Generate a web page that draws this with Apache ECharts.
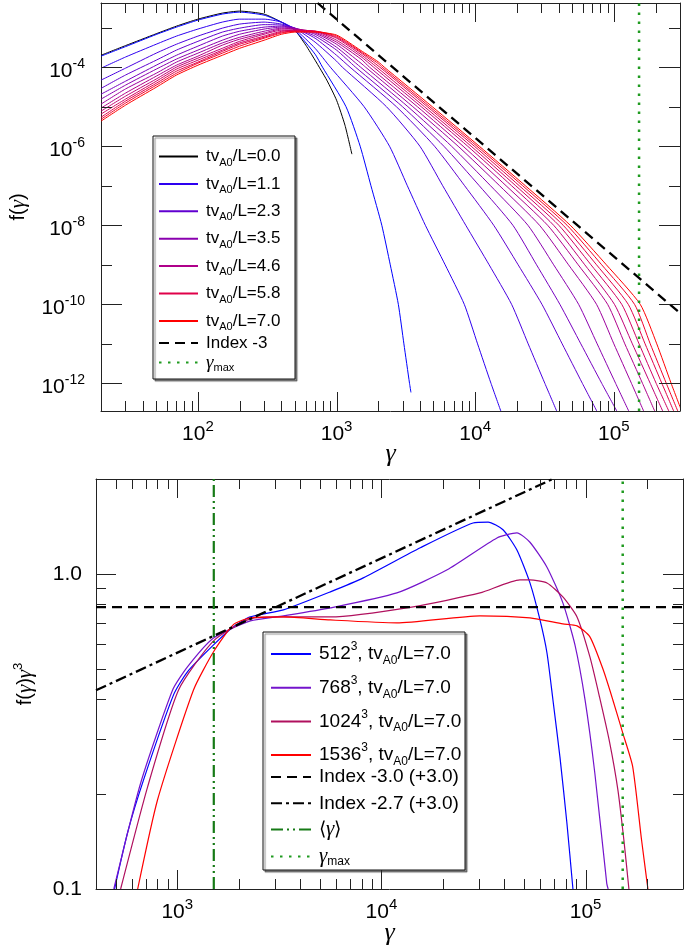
<!DOCTYPE html>
<html><head><meta charset="utf-8">
<script src="https://cdn.jsdelivr.net/npm/echarts/dist/echarts.min.js"></script>
<style>html,body{margin:0;padding:0;background:#fff}#c{width:685px;height:948px}</style>
</head><body><div id="c"></div>
<script>
// ---------------- DATA ----------------
// Top panel: f(gamma) at successive times, [gamma, f]
const t00 = [[20,2.0e-4],[30,3.5e-4],[50,7.0e-4],[70,1.09e-3],[100,1.64e-3],[150,2.33e-3],[200,2.62e-3],[300,2.20e-3],[400,1.38e-3],[500,8.6e-4],[600,3.6e-4],[700,1.5e-4],[850,4.7e-5],[1000,1.46e-5],[1150,3.4e-6],[1290,6.3e-7]];
const t01 = [[20,1.9e-4],[30,3.3e-4],[50,6.7e-4],[70,1.03e-3],[100,1.55e-3],[150,2.20e-3],[200,2.47e-3],[300,2.07e-3],[400,1.38e-3],[500,8.6e-4],[700,2.13e-4],[792,1e-4],[1170,1e-5],[1480,1e-6],[1770,1e-7],[2120,1e-8],[2440,1e-9],[2790,1e-10],[3060,1e-11],[3360,1e-12],[3440,5.9e-13]];
const t02 = [[20,9.4e-5],[30,1.8e-4],[50,3.8e-4],[70,6.1e-4],[100,9.2e-4],[150,1.38e-3],[200,1.64e-3],[300,1.64e-3],[400,1.38e-3],[500,9.2e-4],[700,3.0e-4],[902,1e-4],[1580,1e-5],[2410,1e-6],[3240,1e-7],[4370,1e-8],[6070,1e-9],[8340,1e-10],[1.04e4,1e-11],[1.30e4,1e-12],[1.53e4,2e-13]];
const t03 = [[20,4.7e-5],[30,9.4e-5],[50,2.26e-4],[70,3.8e-4],[100,6.1e-4],[150,9.7e-4],[200,1.23e-3],[300,1.38e-3],[400,1.23e-3],[500,9.7e-4],[700,4.3e-4],[1000,1.42e-4],[1100,1e-4],[2290,1e-5],[3990,1e-6],[5830,1e-7],[8550,1e-8],[1.26e4,1e-9],[1.83e4,1e-10],[2.41e4,1e-11],[3.18e4,1e-12],[3.87e4,2e-13]];
const t04 = [[20,2.9e-5],[30,6.3e-5],[50,1.5e-4],[70,2.7e-4],[100,4.5e-4],[150,7.7e-4],[200,9.7e-4],[300,1.19e-3],[400,1.16e-3],[500,9.7e-4],[700,5.4e-4],[1000,2.0e-4],[1250,1e-4],[2700,1e-5],[5090,1e-6],[8390,1e-7],[1.36e4,1e-8],[2.04e4,1e-9],[3.03e4,1e-10],[4.24e4,1e-11],[5.93e4,1e-12],[7.53e4,2e-13]];
const t05 = [[20,2.07e-5],[30,4.4e-5],[50,1.12e-4],[70,2.0e-4],[100,3.4e-4],[150,6.1e-4],[200,8.1e-4],[300,1.03e-3],[400,1.09e-3],[500,9.7e-4],[700,6.1e-4],[1000,2.7e-4],[1370,1e-4],[2990,1e-5],[5940,1e-6],[1.07e4,1e-7],[1.87e4,1e-8],[2.77e4,1e-9],[4.08e4,1e-10],[5.78e4,1e-11],[8.18e4,1e-12],[1.05e5,2e-13]];
const t06 = [[20,1.55e-5],[30,3.5e-5],[50,8.9e-5],[70,1.6e-4],[100,2.7e-4],[150,4.8e-4],[200,6.8e-4],[300,9.2e-4],[400,1.03e-3],[500,9.7e-4],[700,6.8e-4],[1000,3.2e-4],[1490,1e-4],[3270,1e-5],[6750,1e-6],[1.29e4,1e-7],[2.40e4,1e-8],[3.68e4,1e-9],[5.57e4,1e-10],[7.58e4,1e-11],[1.03e5,1e-12],[1.28e5,2e-13]];
const t07 = [[20,1.16e-5],[30,2.8e-5],[50,7.0e-5],[70,1.34e-4],[100,2.26e-4],[150,4.1e-4],[200,5.7e-4],[300,8.1e-4],[400,9.7e-4],[500,9.2e-4],[700,7.3e-4],[1000,3.8e-4],[1500,1.26e-4],[1620,1e-4],[3550,1e-5],[7530,1e-6],[1.50e4,1e-7],[2.91e4,1e-8],[4.71e4,1e-9],[7.50e4,1e-10],[1.00e5,1e-11],[1.34e5,1e-12],[1.64e5,2e-13]];
const t08 = [[20,9.2e-6],[30,2.2e-5],[50,5.9e-5],[70,1.12e-4],[100,1.9e-4],[150,3.6e-4],[200,5.1e-4],[300,7.3e-4],[400,9.2e-4],[500,9.2e-4],[700,7.7e-4],[1000,4.3e-4],[1500,1.6e-4],[1730,1e-4],[3830,1e-5],[8180,1e-6],[1.67e4,1e-7],[3.33e4,1e-8],[5.53e4,1e-9],[9.02e4,1e-10],[1.20e5,1e-11],[1.61e5,1e-12],[1.97e5,2e-13]];
const t09 = [[20,7.7e-6],[30,1.84e-5],[50,5.0e-5],[70,1.0e-4],[100,1.69e-4],[150,3.0e-4],[200,4.5e-4],[300,6.8e-4],[400,8.6e-4],[500,8.6e-4],[700,8.1e-4],[1000,4.8e-4],[1500,1.85e-4],[1850,1e-4],[4080,1e-5],[8830,1e-6],[1.83e4,1e-7],[3.68e4,1e-8],[6.17e4,1e-9],[1.01e5,1e-10],[1.36e5,1e-11],[1.83e5,1e-12],[2.25e5,2e-13]];
const t10 = [[20,6.5e-6],[30,1.55e-5],[50,4.4e-5],[70,8.9e-5],[100,1.5e-4],[150,2.7e-4],[200,4.1e-4],[300,6.1e-4],[400,8.1e-4],[500,8.6e-4],[700,8.1e-4],[1000,5.4e-4],[1500,2.07e-4],[1950,1e-4],[4300,1e-5],[9350,1e-6],[1.96e4,1e-7],[4.01e4,1e-8],[6.84e4,1e-9],[1.14e5,1e-10],[1.52e5,1e-11],[2.02e5,1e-12],[2.49e5,2e-13]];
const t11 = [[20,5.4e-6],[30,1.38e-5],[50,3.9e-5],[70,7.9e-5],[100,1.34e-4],[150,2.5e-4],[200,3.8e-4],[300,5.7e-4],[400,7.7e-4],[500,8.1e-4],[700,8.1e-4],[1000,5.7e-4],[1500,2.3e-4],[2050,1e-4],[4520,1e-5],[9860,1e-6],[2.08e4,1e-7],[4.31e4,1e-8],[7.50e4,1e-9],[1.27e5,1e-10],[1.68e5,1e-11],[2.22e5,1e-12],[2.70e5,2e-13]];
const t12 = [[20,4.8e-6],[30,1.23e-5],[50,3.5e-5],[70,7.0e-5],[100,1.26e-4],[150,2.26e-4],[200,3.4e-4],[300,5.4e-4],[400,7.3e-4],[500,8.1e-4],[700,8.1e-4],[1000,6.1e-4],[1500,2.45e-4],[2000,1.23e-4],[2130,1e-4],[4700,1e-5],[1.03e4,1e-6],[2.20e4,1e-7],[4.60e4,1e-8],[8.17e4,1e-9],[1.41e5,1e-10],[1.83e5,1e-11],[2.39e5,1e-12],[2.89e5,2e-13]];
const t13 = [[20,4.3e-6],[30,1.09e-5],[50,3.1e-5],[70,6.3e-5],[100,1.12e-4],[150,2.0e-4],[200,3.0e-4],[300,4.8e-4],[400,6.8e-4],[500,7.7e-4],[700,7.7e-4],[1000,6.5e-4],[1500,2.63e-4],[2000,1.36e-4],[2210,1e-4],[4900,1e-5],[1.07e4,1e-6],[2.30e4,1e-7],[4.85e4,1e-8],[8.83e4,1e-9],[1.55e5,1e-10],[2.04e5,1e-11],[2.59e5,1e-12],[3.1e5,1.9e-13]];
const topCurves = [t00,t01,t02,t03,t04,t05,t06,t07,t08,t09,t10,t11,t12,t13];
// legend labels (tv_A0/L) for the curves shown in the legend
const topTimes = ['0.0',null,'1.1',null,'2.3',null,'3.5',null,'4.6',null,null,'5.8',null,'7.0'];
const indexLineTop = [[730,4.2e-3],[3.0e5,6.0e-11]];
const gammaMax = 1.52e5;
const gammaMean = 1.51e3;

// Bottom panel: f(gamma) gamma^3, [gamma, value]
const b512 = [[493,0.1],[571,0.151],[684,0.222],[959,0.413],[1122,0.489],[1506,0.595],[1884,0.679],[2280,0.730],[3311,0.769],[5623,0.877],[8147,0.971],[1.55e4,1.21],[2.81e4,1.45],[3.33e4,1.46],[3.94e4,1.38],[4.61e4,1.19],[5.34e4,0.936],[5.98e4,0.714],[6.47e4,0.561],[6.92e4,0.398],[7.49e4,0.262],[8.10e4,0.162],[8.67e4,0.1]];
const b768 = [[489,0.1],[662,0.217],[949,0.428],[1122,0.507],[1506,0.626],[2280,0.709],[3311,0.736],[5623,0.780],[1.19e4,0.870],[2.10e4,1.03],[3.68e4,1.30],[4.61e4,1.35],[5.34e4,1.26],[6.47e4,1.05],[7.74e4,0.809],[8.87e4,0.595],[9.94e4,0.398],[1.11e5,0.233],[1.27e5,0.104],[1.29e5,0.1]];
const b1024 = [[528,0.1],[716,0.211],[1015,0.428],[1506,0.613],[2280,0.720],[3311,0.730],[5623,0.730],[1.43e4,0.786],[3.04e4,0.870],[4.77e4,0.957],[5.34e4,0.957],[6.47e4,0.936],[7.74e4,0.845],[9.08e4,0.730],[1.05e5,0.545],[1.17e5,0.407],[1.31e5,0.293],[1.44e5,0.206],[1.54e5,0.143],[1.63e5,0.1]];
const b1536 = [[640,0.1],[801,0.192],[1201,0.428],[1506,0.566],[1884,0.690],[2280,0.725],[3311,0.730],[5623,0.714],[1.19e4,0.699],[3.04e4,0.736],[5.34e4,0.725],[7.74e4,0.694],[9.08e4,0.684],[1.05e5,0.631],[1.22e5,0.496],[1.36e5,0.398],[1.52e5,0.313],[1.70e5,0.245],[1.88e5,0.143],[2.0e5,0.105],[2.02e5,0.1]];
const index30Line = [[400,0.784],[3.0e5,0.784]];
const index27Line = [[400,0.427],[6.9e4,2.0]];

// Axis ranges and tick values
const topXRange = [20, 3e5], topYRange = [2e-13, 4.2e-3];
const botXRange = [400, 3e5], botYRange = [0.1, 2.0];
const topXMajor = [1e2, 1e3, 1e4, 1e5];
const topYMajor = [1e-12, 1e-10, 1e-8, 1e-6, 1e-4];
const topYMinor = [1e-11, 1e-9, 1e-7, 1e-5, 1e-3];
const botXMajor = [1e3, 1e4, 1e5];
const botYMajor = [0.1, 1.0];
const botYMinor = [0.2, 0.3, 0.4, 0.5, 0.6, 0.7, 0.8, 0.9, 2.0];

// ---------------- BUILD ----------------
const L = Math.log10;
const xy = arr => arr.map(p => [L(p[0]), L(p[1])]);
function minorTicks(lo, hi) {
  const out = [];
  for (let d = Math.floor(L(lo)); d <= Math.ceil(L(hi)); d++)
    for (let k = 2; k <= 9; k++) { const v = k * Math.pow(10, d); if (v >= lo * 0.999 && v <= hi * 1.001) out.push(v); }
  return out;
}
const FONT = "'Liberation Sans', Arial, Helvetica, sans-serif";
const SERIF = "'Liberation Serif', 'Times New Roman', serif";
const AX = '#222';

function mkAxis(o) {
  return {
    type: 'value', gridIndex: o.grid, position: o.pos, min: o.min, max: o.max,
    axisLine: { show: true, onZero: false, lineStyle: { color: AX, width: 1 } },
    axisTick: { show: false },
    axisLabel: o.label ? Object.assign({ show: true, customValues: o.ticks }, o.label) : { show: false },
    splitLine: { show: false }, silent: true,
    name: o.name || '', nameLocation: 'middle', nameGap: o.nameGap || 0, nameTextStyle: o.nameStyle || {},
    nameMoveOverlap: false
  };
}
const powLabelX = {
  margin: 13, color: '#000', fontFamily: FONT,
  formatter: v => '{b|10}{s|' + Math.round(v) + '}',
  rich: { b: { fontSize: 21, fontFamily: FONT, color: '#000' }, s: { fontSize: 15, fontFamily: FONT, color: '#000', lineHeight: 10, padding: [0, 0, 16, 0] } }
};
const powLabelY = {
  margin: 16, color: '#000', fontFamily: FONT,
  formatter: v => '{b|10}{s|' + Math.round(v) + '}',
  rich: { b: { fontSize: 21, fontFamily: FONT, color: '#000', padding: [8, 0, 0, 0] }, s: { fontSize: 14, fontFamily: FONT, color: '#000', lineHeight: 10, padding: [0, 0, 6, 0] } }
};
const linLabelY = { margin: 14, color: '#000', fontFamily: FONT, fontSize: 21, formatter: v => Math.pow(10, v).toFixed(1) };

const tx = topXRange.map(L), ty = topYRange.map(L), bx = botXRange.map(L), by = botYRange.map(L);
const gammaName = { fontFamily: SERIF, fontStyle: 'italic', fontSize: 26, color: '#000' };
const xAxes = [
  mkAxis({ grid: 0, pos: 'bottom', min: tx[0], max: tx[1], ticks: topXMajor.map(L), label: powLabelX, name: 'γ', nameGap: 30, nameStyle: gammaName }),
  mkAxis({ grid: 0, pos: 'top', min: tx[0], max: tx[1] }),
  mkAxis({ grid: 1, pos: 'bottom', min: bx[0], max: bx[1], ticks: botXMajor.map(L), label: powLabelX, name: 'γ', nameGap: 31, nameStyle: gammaName }),
  mkAxis({ grid: 1, pos: 'top', min: bx[0], max: bx[1] })
];
const yNameRich = { g: { fontFamily: SERIF, fontStyle: 'italic', fontSize: 21, color: '#000' }, s: { fontSize: 13, fontFamily: FONT, color: '#000', lineHeight: 8, padding: [0, 0, 14, 0] } };
const yAxes = [
  mkAxis({ grid: 0, pos: 'left', min: ty[0], max: ty[1], ticks: topYMajor.map(L), label: powLabelY,
    name: 'f({g|γ})', nameGap: 72, nameStyle: { fontFamily: FONT, fontSize: 20, color: '#000', rich: yNameRich } }),
  mkAxis({ grid: 0, pos: 'right', min: ty[0], max: ty[1] }),
  mkAxis({ grid: 1, pos: 'left', min: by[0], max: by[1], ticks: botYMajor.map(L), label: linLabelY,
    name: 'f({g|γ}){g|γ}{s|3}', nameGap: 60, nameStyle: { fontFamily: FONT, fontSize: 20, color: '#000', rich: yNameRich } }),
  mkAxis({ grid: 1, pos: 'right', min: by[0], max: by[1] })
];

// tick marks on all four sides, placed through the axes' own coordinate mapping
function tickData(xMaj, xMin, yMaj, yMin, xRef, yRef, lx, sx, ly, sy) {
  const d = [];
  xMaj.forEach(v => d.push([L(v), yRef, lx, 0]));
  xMin.forEach(v => d.push([L(v), yRef, sx, 0]));
  yMaj.forEach(v => d.push([xRef, L(v), ly, 1]));
  yMin.forEach(v => d.push([xRef, L(v), sy, 1]));
  return d;
}
function tickRender(params, api) {
  const cs = params.coordSys;
  const p = api.coord([api.value(0), api.value(1)]);
  const len = api.value(2), isY = api.value(3) === 1;
  const st = { stroke: AX, lineWidth: 1 };
  if (!isY) {
    const x = Math.round(p[0]) + 0.5, b = cs.y + cs.height, t = cs.y;
    return { type: 'group', children: [
      { type: 'line', shape: { x1: x, y1: b, x2: x, y2: b - len }, style: st },
      { type: 'line', shape: { x1: x, y1: t, x2: x, y2: t + len }, style: st } ] };
  }
  const y = Math.round(p[1]) + 0.5, l = cs.x, r = cs.x + cs.width;
  return { type: 'group', children: [
    { type: 'line', shape: { x1: l, y1: y, x2: l + len, y2: y }, style: st },
    { type: 'line', shape: { x1: r, y1: y, x2: r - len, y2: y }, style: st } ] };
}

function gradColor(k) { const t = (k - 1) / 12; return 'rgb(' + Math.round(255 * Math.pow(t, 0.7)) + ',0,' + Math.round(255 * Math.pow(1 - t, 0.7)) + ')'; }
const series = [];
function line(name, data, xi, yi, color, width, type, z, smooth) {
  series.push({ name, type: 'line', xAxisIndex: xi, yAxisIndex: yi, data: xy(data), showSymbol: false, symbol: 'none',
    smooth: smooth ? 0.2 : false,
    lineStyle: { width, color, type: type || 'solid' }, itemStyle: { color }, animation: false, silent: true, z: z || 2 });
}
series.push({ type: 'custom', name: 'ticksTop', xAxisIndex: 0, yAxisIndex: 0, silent: true, animation: false, z: 4, clip: false,
  data: tickData(topXMajor, minorTicks(topXRange[0], topXRange[1]), topYMajor, topYMinor, tx[0], ty[0], 19, 10, 21, 11), renderItem: tickRender });
series.push({ type: 'custom', name: 'ticksBot', xAxisIndex: 2, yAxisIndex: 2, silent: true, animation: false, z: 4, clip: false,
  data: tickData(botXMajor, minorTicks(botXRange[0], botXRange[1]), botYMajor, botYMinor, bx[0], by[0], 19, 10, 20, 10), renderItem: tickRender });

const topLegendNames = [];
topCurves.forEach((arr, k) => {
  const name = topTimes[k] ? 'tvA0/L=' + topTimes[k] : 'curve' + k;
  if (topTimes[k]) topLegendNames.push(name);
  line(name, arr, 0, 0, k === 0 ? '#000' : gradColor(k), 1, null, 2, true);
});
line('Index -3', indexLineTop, 0, 0, '#000', 2.3, [10, 6], 3);
line('gmaxTop', [[gammaMax, topYRange[0]], [gammaMax, topYRange[1]]], 0, 0, '#1f9a1f', 2.5, [2.5, 6.5], 3);

line('512^3, tvA0/L=7.0', b512, 2, 2, '#0000ff', 1.2, null, 2, true);
line('768^3, tvA0/L=7.0', b768, 2, 2, '#7414cc', 1.2, null, 2, true);
line('1024^3, tvA0/L=7.0', b1024, 2, 2, '#b0105e', 1.2, null, 2, true);
line('1536^3, tvA0/L=7.0', b1536, 2, 2, '#ff0000', 1.2, null, 2, true);
line('Index -3.0 (+3.0)', index30Line, 2, 2, '#000', 2.3, [10, 6], 3);
line('Index -2.7 (+3.0)', index27Line, 2, 2, '#000', 2.3, [11, 4, 3, 4], 3);
line('gmean', [[gammaMean, botYRange[0]], [gammaMean, botYRange[1]]], 2, 2, '#167a16', 2.2, [12, 4, 2, 4, 2, 4], 3);
line('gmaxBot', [[gammaMax, botYRange[0]], [gammaMax, botYRange[1]]], 2, 2, '#1f9a1f', 2.5, [2.5, 6.5], 3);

function fmtName(n) {
  if (n === 'gmaxTop' || n === 'gmaxBot') return '{g|γ}{sub2|max}';
  if (n === 'gmean') return '⟨{g|γ}⟩';
  return n.replace('A0', '{sub|A0}').replace('^3', '{sup|3}');
}
function legendStyle(fs, lh, sfs, subPad, supPad) {
  return { fontFamily: FONT, fontSize: fs, color: '#000', lineHeight: lh, padding: [0, 0, 0, 3],
    rich: { sub: { fontSize: sfs, lineHeight: 6, padding: [subPad, 0, 0, 0] },
            sub2: { fontSize: sfs, lineHeight: 6, padding: [subPad - 2, 0, 0, 0] },
            sup: { fontSize: sfs, lineHeight: 6, padding: [0, 0, supPad, 0] },
            g: { fontFamily: SERIF, fontStyle: 'italic', fontSize: fs + 2, lineHeight: lh } } };
}
const legBase = { orient: 'vertical', padding: 0, selectedMode: false, formatter: fmtName, itemStyle: { opacity: 0 } };
const legends = [
  Object.assign({}, legBase, { data: topLegendNames, left: 158, top: 145, itemWidth: 39, itemHeight: 14, itemGap: 4.4, textStyle: legendStyle(17, 20, 11, 12, 14) }),
  Object.assign({}, legBase, { data: ['Index -3', 'gmaxTop'], left: 158, top: 333, itemWidth: 39, itemHeight: 14, itemGap: -1, textStyle: legendStyle(17, 20, 11, 12, 14) }),
  Object.assign({}, legBase, { data: ['512^3, tvA0/L=7.0', '768^3, tvA0/L=7.0', '1024^3, tvA0/L=7.0', '1536^3, tvA0/L=7.0'], left: 270, top: 641, itemWidth: 40, itemHeight: 14, itemGap: 7.7, textStyle: legendStyle(19, 22, 12, 13, 14) }),
  Object.assign({}, legBase, { data: ['Index -3.0 (+3.0)', 'Index -2.7 (+3.0)', 'gmean', 'gmaxBot'], left: 270, top: 766, itemWidth: 40, itemHeight: 14, itemGap: 4.3, textStyle: legendStyle(19, 22, 12, 13, 14) })
];

const boxStyle = { fill: '#fff', stroke: '#111', lineWidth: 1, shadowColor: 'rgba(0,0,0,0.45)', shadowOffsetX: 2, shadowOffsetY: 2, shadowBlur: 1 };
const option = {
  backgroundColor: '#fff',
  animation: false,
  textStyle: { fontFamily: FONT },
  grid: [
    { left: 101, top: 3, width: 579, height: 408, containLabel: false, outerBoundsMode: 'none' },
    { left: 96, top: 479, width: 587, height: 410, containLabel: false, outerBoundsMode: 'none' }
  ],
  xAxis: xAxes, yAxis: yAxes,
  legend: legends,
  graphic: [
    { type: 'rect', shape: { x: 153, y: 136, width: 142, height: 243 }, style: boxStyle, z: 3 },
    { type: 'rect', shape: { x: 263, y: 632, width: 202, height: 238 }, style: boxStyle, z: 3 }
  ],
  series
};
const chart = echarts.init(document.getElementById('c'), null, { renderer: 'canvas' });
chart.setOption(option);
</script></body></html>
